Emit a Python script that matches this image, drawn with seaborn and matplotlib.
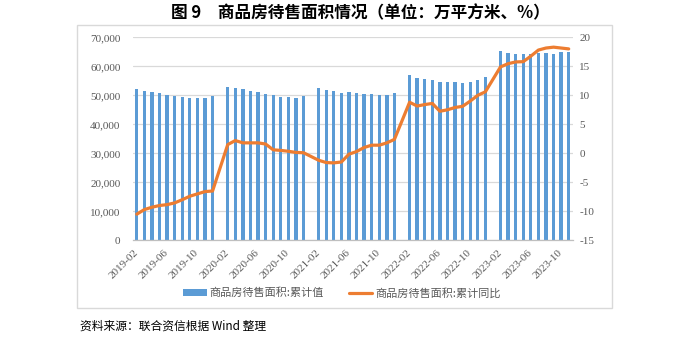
import matplotlib
matplotlib.use("Agg")
import matplotlib.pyplot as plt
import seaborn as sns
import pandas as pd
from matplotlib.patches import Patch, Rectangle
from matplotlib.lines import Line2D
from matplotlib.ticker import FuncFormatter

# ---------------- data ----------------
months = [f"{y}-{m:02d}" for y in range(2019, 2024) for m in range(2, 13)][:-1]  # 2019-02 ... 2023-11

area_2019 = [52100, 51600, 51200, 50800, 50000, 49800, 49500, 49200, 49200, 49000, 49700]
area_2020 = [52800, 52500, 52100, 51600, 51000, 50600, 50000, 49400, 49400, 49200, 49700]
area_2021 = [52400, 51800, 51450, 50850, 51050, 50850, 50500, 50300, 50050, 50050, 50700]
area_2022 = [56900, 56000, 55650, 55300, 54750, 54600, 54600, 54250, 54600, 55150, 56300]
area_2023 = [65400, 64650, 64400, 64100, 64300, 64450, 64600, 64400, 64800, 65100]

yoy_2019 = [-10.5, -9.7, -9.3, -9.0, -8.85, -8.55, -8.0, -7.4, -7.0, -6.6, -6.5]
yoy_2020 = [1.5, 2.2, 1.8, 1.8, 1.8, 1.6, 0.6, 0.5, 0.35, 0.15, 0.1]
yoy_2021 = [-1.2, -1.6, -1.65, -1.5, -0.15, 0.3, 1.0, 1.4, 1.4, 1.8, 2.4]
yoy_2022 = [8.8, 8.15, 8.4, 8.6, 7.25, 7.5, 7.9, 8.1, 9.0, 10.0, 10.6]
yoy_2023 = [14.9, 15.45, 15.75, 15.8, 16.75, 17.8, 18.15, 18.3, 18.15, 18.0]

tick_labels = ["2019-02", "2019-06", "2019-10", "2020-02", "2020-06", "2020-10",
               "2021-02", "2021-06", "2021-10", "2022-02", "2022-06", "2022-10",
               "2023-02", "2023-06", "2023-10"]

bar_label = "商品房待售面积:累计值"
line_label = "商品房待售面积:累计同比"
title = "图 9\u3000商品房待售面积情况（单位：万平方米、%）"
source = "资料来源：联合资信根据 Wind 整理"

area = area_2019 + area_2020 + area_2021 + area_2022 + area_2023
yoy = yoy_2019 + yoy_2020 + yoy_2021 + yoy_2022 + yoy_2023


def month_pos(s):
    return (int(s[:4]) - 2019) * 12 + int(s[5:7]) - 2


df = pd.DataFrame({"pos": [month_pos(m) for m in months], "area": area, "yoy": yoy})

# ---------------- style ----------------
sns.set_style("white")
plt.rcParams["font.family"] = ["Liberation Serif", "Noto Sans CJK SC", "DejaVu Sans"]
plt.rcParams["axes.unicode_minus"] = False

BLUE = "#5B9BD5"
ORANGE = "#ED7D31"
GRID = "#D9D9D9"
TXT = "#595959"

fig = plt.figure(figsize=(7, 3.38), dpi=100)
W, H = 700, 338
L, R, T, B = 133, 572.5, 37.3, 240.3
ax = fig.add_axes([L / W, 1 - B / H, (R - L) / W, (B - T) / H])

sns.barplot(data=df, x="pos", y="area", native_scale=True, width=0.44,
            color=BLUE, saturation=1, ax=ax, zorder=2, linewidth=0)
ax2 = ax.twinx()
sns.lineplot(data=df, x="pos", y="yoy", ax=ax2, color=ORANGE, lw=2.3,
             solid_capstyle="round", solid_joinstyle="round")

ax.set_ylim(0, 70000)
ax.set_yticks(range(0, 70001, 10000))
ax.yaxis.set_major_formatter(FuncFormatter(lambda v, p: f"{v:,.0f}"))
ax2.set_ylim(-15, 20)
ax2.set_yticks(range(-15, 21, 5))

ax.set_xlim(-0.5, 57.5)
ax2.set_xlim(-0.5, 57.5)
label_pos = [month_pos(s) for s in tick_labels]
ax.set_xticks(label_pos)
ax.set_xticklabels(tick_labels, rotation=45, ha="right", va="center",
                   rotation_mode="anchor", fontsize=8, color=TXT)
ax.set_xticks([p - 0.5 for p in label_pos] + [57.5], minor=True)
ax.tick_params(axis="x", which="major", length=0, pad=8)
ax.tick_params(axis="x", which="minor", length=4, color="#BFBFBF", width=0.8)

ax.tick_params(axis="y", length=0, pad=9, labelsize=8, labelcolor=TXT)
ax2.tick_params(axis="y", length=0, pad=5, labelsize=8, labelcolor=TXT)

ax.grid(axis="y", color=GRID, lw=0.9)
ax.grid(axis="x", visible=False)
ax.set_axisbelow(True)

for s in ["left", "right", "top"]:
    ax.spines[s].set_visible(False)
ax.spines["bottom"].set_color("#BFBFBF")
ax.spines["bottom"].set_linewidth(0.9)
for s in ax2.spines.values():
    s.set_visible(False)

ax.set_xlabel("")
ax.set_ylabel("")
ax2.set_xlabel("")
ax2.set_ylabel("")

# border box
fig.patches.append(Rectangle((77 / W, 30 / H), 535 / W, 283 / H, transform=fig.transFigure,
                             fill=False, ec=GRID, lw=1))

# legend
handles = [Patch(facecolor=BLUE, edgecolor="none"), Line2D([], [], color=ORANGE, lw=2.3)]
fig.legend(handles, [bar_label, line_label], loc="center",
           bbox_to_anchor=(342 / W, 1 - 293 / H), ncol=2, frameon=False,
           prop={"family": ["Noto Sans CJK SC"], "size": 8}, labelcolor=TXT,
           handlelength=2.1, handleheight=0.65, handletextpad=0.3, columnspacing=2.2)

fig.text(360 / W, 1 - 13 / H, title, ha="center", va="center", fontsize=12,
         fontweight="bold", family=["Noto Sans CJK SC", "DejaVu Sans"], color="#000000")
fig.text(80 / W, 1 - 326 / H, source, ha="left", va="center", fontsize=8.5,
         family=["Noto Sans CJK SC", "DejaVu Sans"], color="#000000")

fig.savefig("out.png", dpi=100)
